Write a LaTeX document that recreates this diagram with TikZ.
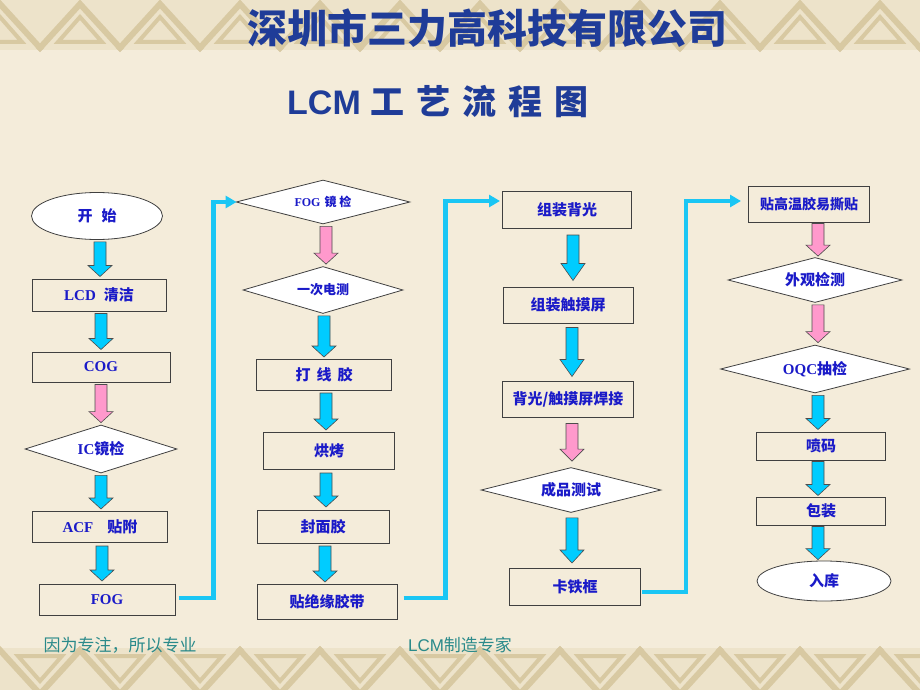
\documentclass[tikz,border=0pt]{standalone}
\usepackage{fontspec}
\setmainfont{Liberation Serif}
\newfontfamily\cjk{Noto Sans CJK SC}
\newfontfamily\sansf{Liberation Sans}
\usetikzlibrary{shapes.geometric,arrows.meta,calc}
\definecolor{bgc}{HTML}{F4ECDA}
\definecolor{bandc}{HTML}{EDE3CA}
\definecolor{bandl}{HTML}{D8C9A2}
\definecolor{titleblue}{HTML}{1F3C98}
\definecolor{nodeblue}{HTML}{1A1AC8}
\definecolor{cyanc}{HTML}{00CCFF}
\definecolor{pinkc}{HTML}{FF99CC}
\definecolor{connc}{HTML}{1AC6F4}
\definecolor{footc}{HTML}{2A8A8A}
\newcommand\fsz[1]{\fontsize{#1}{#1}\selectfont}
\newcommand\lat[1]{{\rmfamily\bfseries #1}}
% block arrow: [head length]{colour}{from}{to}{dx}{gap}
\newcommand\barr[6][11]{%
  \draw[blockarrow,fill=#2] let \p1=($(#3.south)+(#5,0)$), \p2=(#4.north) in
    (\x1-6pt,\y1-#6pt) -- (\x1+6pt,\y1-#6pt) -- (\x1+6pt,\y2+#6pt+#1pt)
    -- (\x1+12pt,\y2+#6pt+#1pt) -- (\x1,\y2+#6pt) -- (\x1-12pt,\y2+#6pt+#1pt)
    -- (\x1-6pt,\y2+#6pt+#1pt) -- cycle;}
\begin{document}
\begin{tikzpicture}[x=1pt,y=-1pt,
  box/.style={draw=black!75,line width=1pt,inner sep=0pt,text=nodeblue,font=\cjk\bfseries\fsz{15}},
  dia/.style={diamond,draw=black!75,line width=0.8pt,fill=white,inner sep=0pt,text=nodeblue,font=\cjk\bfseries\fsz{15}},
  ell/.style={ellipse,draw=black!75,line width=0.8pt,fill=white,inner sep=0pt,text=nodeblue,font=\cjk\bfseries\fsz{15}},
  blockarrow/.style={draw=black!70,line width=0.6pt},
  conn/.style={draw=connc,line width=4.5pt,-{Triangle[length=11pt,width=12pt]}},
  foot/.style={text=footc,font=\cjk\fsz{17},inner sep=0pt}]

\useasboundingbox (0,0) rectangle (920,690);
\fill[bgc] (0,0) rectangle (920,690);
\begin{scope}
\clip (0,0) rectangle (920,690);
\fill[bandc] (0,0) rectangle (920,50);
\fill[bandc] (0,648) rectangle (920,690);
\foreach \cx in {0,80,...,960}{
  \draw[bandl,line width=6pt] (\cx-42,50) -- (\cx,4) -- (\cx+42,50);
  \draw[bandl,line width=4pt] (\cx-22,42) -- (\cx,17) -- (\cx+22,42) -- cycle;
  \draw[bandl,line width=6pt] (\cx-2,648) -- (\cx+40,694) -- (\cx+82,648);
  \draw[bandl,line width=4pt] (\cx+18,656) -- (\cx+40,681) -- (\cx+62,656) -- cycle;
}
\end{scope}

% titles
\node[text=titleblue,font=\cjk\bfseries\fsz{40},inner sep=0pt] (title) at (487,28) {深圳市三力高科技有限公司};
\node[text=titleblue,font=\cjk\bfseries\fsz{34},inner sep=0pt] (sub) at (438,102)
  {{\sansf\bfseries LCM}\hspace{10pt}工\hspace{12pt}艺\hspace{12pt}流\hspace{12pt}程\hspace{12pt}图};

% column 1
\node[ell,minimum width=131pt,minimum height=47pt] (start) at (97,216) {开\hspace{9pt}始};
\node[box,minimum width=134pt,minimum height=32pt] (lcd) at (99,295) {\lat{LCD}\hspace{8pt}清洁};
\node[box,minimum width=138pt,minimum height=30pt] (cog) at (101,367) {\lat{COG}};
\node[dia,minimum width=152pt,minimum height=48pt,aspect=3.2] (ic) at (101,449) {\lat{IC}镜检};
\node[box,minimum width=135pt,minimum height=31pt] (acf) at (100,527) {\lat{ACF}\hspace{14pt}贴附};
\node[box,minimum width=136pt,minimum height=31pt] (fog) at (107,600) {\lat{FOG}};

% column 2
\node[dia,minimum width=174pt,minimum height=44pt,aspect=4,font=\cjk\bfseries\fsz{12}] (fogj) at (323,202) {\lat{FOG}\hspace{4pt}镜\hspace{3pt}检};
\node[dia,minimum width=160pt,minimum height=47pt,aspect=3.4,font=\cjk\bfseries\fsz{13}] (ycdc) at (323,290) {一次电测};
\node[box,minimum width=135pt,minimum height=31pt] (dxj) at (324,375) {打\hspace{6pt}线\hspace{6pt}胶};
\node[box,minimum width=131pt,minimum height=37pt] (hk) at (329,451) {烘烤};
\node[box,minimum width=132pt,minimum height=33pt] (fmj) at (323,527) {封面胶};
\node[box,minimum width=140pt,minimum height=35pt] (tjy) at (327,602) {贴绝缘胶带};

% column 3
\node[box,minimum width=129pt,minimum height=37pt] (zzbg) at (567,210) {组装背光};
\node[box,minimum width=130pt,minimum height=36pt] (zzcm) at (568,305) {组装触摸屏};
\node[box,minimum width=131pt,minimum height=36pt] (bghj) at (568,399) {背光/触摸屏焊接};
\node[dia,minimum width=180pt,minimum height=45pt,aspect=4] (cpcs) at (571,490) {成品测试};
\node[box,minimum width=131pt,minimum height=37pt] (ktk) at (575,587) {卡铁框};

% column 4
\node[box,minimum width=121pt,minimum height=36pt,font=\cjk\bfseries\fsz{14}] (tgw) at (809,204) {贴高温胶易撕贴};
\node[dia,minimum width=174pt,minimum height=45pt,aspect=3.9] (wgjc) at (815,280) {外观检测};
\node[dia,minimum width=189pt,minimum height=48pt,aspect=3.9] (oqc) at (815,369) {\lat{OQC}抽检};
\node[box,minimum width=129pt,minimum height=28pt] (pm) at (821,446) {喷码};
\node[box,minimum width=129pt,minimum height=28pt] (bz) at (821,511) {包装};
\node[ell,minimum width=134pt,minimum height=40pt] (rk) at (824,581) {入库};

% block arrows
\barr{cyanc}{start}{lcd}{3}{2}
\barr{cyanc}{lcd}{cog}{2}{2}
\barr{pinkc}{cog}{ic}{0}{2}
\barr{cyanc}{ic}{acf}{0}{2}
\barr{cyanc}{acf}{fog}{2}{3}

\barr{pinkc}{fogj}{ycdc}{3}{2}
\barr{cyanc}{ycdc}{dxj}{1}{2}
\barr{cyanc}{dxj}{hk}{2}{2}
\barr{cyanc}{hk}{fmj}{-3}{3}
\barr{cyanc}{fmj}{tjy}{2}{2}

\barr[17]{cyanc}{zzbg}{zzcm}{6}{6}
\barr[17]{cyanc}{zzcm}{bghj}{4}{4}
\barr[12]{pinkc}{bghj}{cpcs}{4}{6}
\barr[13]{cyanc}{cpcs}{ktk}{1}{5}

\barr{pinkc}{tgw}{wgjc}{9}{1}
\barr{pinkc}{wgjc}{oqc}{3}{2}
\barr{cyanc}{oqc}{pm}{3}{2}
\barr{cyanc}{pm}{bz}{-3}{1}
\barr{cyanc}{bz}{rk}{-3}{1}

% connectors between columns
\draw[conn] ([xshift=3pt,yshift=2pt]fog.east) -- ++(35,0) |- ($(fogj.west)+(1,0)$);
\draw[conn] ([xshift=6pt,yshift=4pt]tjy.east) -- ++(42,0) |- ($(zzbg.west)+(-2,-9)$);
\draw[conn] ([xshift=1pt,yshift=-5pt]ktk.east) -- ++(44,0) |- ($(tgw.west)+(-7,-3)$);

% footer
\node[foot] (f1) at (120,645) {因为专注，所以专业};
\node[foot] (f2) at (460,645) {{\sansf LCM}制造专家};
\end{tikzpicture}
\end{document}
